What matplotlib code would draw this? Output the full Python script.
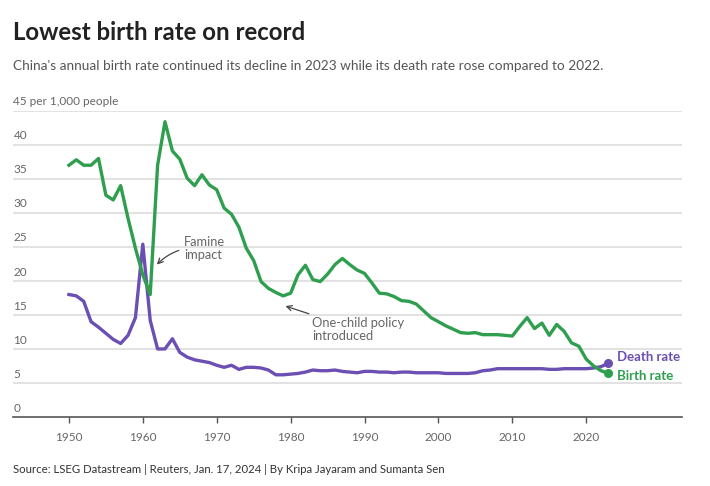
"""China birth rate vs death rate, 1950-2023 (Reuters style)."""

import matplotlib

matplotlib.use("Agg")
import matplotlib.pyplot as plt

plt.rcParams["font.family"] = ["Lato", "DejaVu Sans"]

GREEN = "#2f9e4f"
PURPLE = "#6b4fb3"
GRID = "#dddddd"
TEXT_GRAY = "#666666"

years = list(range(1950, 2024))

birth_rate = [
    37.0, 37.8, 37.0, 37.0, 38.0, 32.6, 31.9, 34.0, 29.2, 24.8,
    20.9, 18.0, 37.0, 43.4, 39.1, 37.9, 35.1, 34.0, 35.6, 34.1,
    33.4, 30.7, 29.8, 27.9, 24.8, 23.0, 19.9, 18.9, 18.3, 17.8,
    18.2, 20.9, 22.3, 20.2, 19.9, 21.0, 22.4, 23.3, 22.4, 21.6,
    21.1, 19.7, 18.2, 18.1, 17.7, 17.1, 17.0, 16.6, 15.6, 14.6,
    14.0, 13.4, 12.9, 12.4, 12.3, 12.4, 12.1, 12.1, 12.1, 12.0,
    11.9, 13.3, 14.6, 13.0, 13.8, 12.0, 13.6, 12.6, 10.9, 10.4,
    8.5, 7.5, 6.8, 6.4,
]

death_rate = [
    18.0, 17.8, 17.0, 14.0, 13.2, 12.3, 11.4, 10.8, 12.0, 14.6,
    25.4, 14.2, 10.0, 10.0, 11.5, 9.5, 8.8, 8.4, 8.2, 8.0,
    7.6, 7.3, 7.6, 7.0, 7.3, 7.3, 7.2, 6.9, 6.2, 6.2,
    6.3, 6.4, 6.6, 6.9, 6.8, 6.8, 6.9, 6.7, 6.6, 6.5,
    6.7, 6.7, 6.6, 6.6, 6.5, 6.6, 6.6, 6.5, 6.5, 6.5,
    6.5, 6.4, 6.4, 6.4, 6.4, 6.5, 6.8, 6.9, 7.1, 7.1,
    7.1, 7.1, 7.1, 7.1, 7.1, 7.0, 7.0, 7.1, 7.1, 7.1,
    7.1, 7.2, 7.4, 7.9,
]

x_ticks = [1950, 1960, 1970, 1980, 1990, 2000, 2010, 2020]
y_ticks = [0, 5, 10, 15, 20, 25, 30, 35, 40]

fig = plt.figure(figsize=(7.1, 4.86), dpi=100)
ax = fig.add_axes([0.019, 0.142, 0.942, 0.630])

ax.set_xlim(1942.5, 2033)
ax.set_ylim(0, 45)

for v in y_ticks[1:] + [45]:
    ax.axhline(v, color=GRID, lw=1.2, zorder=0)

ax.plot(years, death_rate, color=PURPLE, lw=2.4, solid_joinstyle="round", zorder=3)
ax.plot(years, birth_rate, color=GREEN, lw=2.4, solid_joinstyle="round", zorder=4)
ax.plot(years[-1], death_rate[-1], "o", color=PURPLE, ms=5.5, zorder=5)
ax.plot(years[-1], birth_rate[-1], "o", color=GREEN, ms=5.5, zorder=5)

for side in ("top", "right", "left"):
    ax.spines[side].set_visible(False)
ax.spines["bottom"].set_color("#555555")
ax.spines["bottom"].set_linewidth(1.2)

ax.set_yticks([])
ax.set_xticks(x_ticks)
ax.set_xticklabels([str(y) for y in x_ticks])
ax.tick_params(axis="x", length=4, width=1, color="#555555", labelsize=8.5,
               labelcolor=TEXT_GRAY, pad=7)

for v in y_ticks:
    ax.text(1942.5, v + 0.5, str(v), fontsize=8.5, color=TEXT_GRAY,
            ha="left", va="bottom")
ax.text(1942.5, 45.5, "45 per 1,000 people", fontsize=8.5, color=TEXT_GRAY,
        ha="left", va="bottom")

ax.text(2024.2, 8.8, "Death rate", color=PURPLE,
        fontsize=9.5, fontweight="bold", ha="left", va="center")
ax.text(2024.2, 6.0, "Birth rate", color=GREEN,
        fontsize=9.5, fontweight="bold", ha="left", va="center")

ax.annotate("Famine\nimpact", xy=(1961.9, 22.4), xytext=(1965.6, 24.8),
            fontsize=9.3, color=TEXT_GRAY, ha="left", va="center",
            linespacing=1.1,
            arrowprops=dict(arrowstyle="->", color="#444444", lw=0.9,
                            connectionstyle="arc3,rad=0.25",
                            shrinkA=2, shrinkB=0))
ax.annotate("One-child policy\nintroduced", xy=(1979.3, 16.3),
            xytext=(1982.9, 12.8),
            fontsize=9.3, color=TEXT_GRAY, ha="left", va="center",
            linespacing=1.1,
            arrowprops=dict(arrowstyle="->", color="#444444", lw=0.9,
                            shrinkA=2, shrinkB=0))

fig.text(0.019, 0.934, "Lowest birth rate on record", fontsize=17.3,
         fontweight="bold", color="#222222", ha="left", va="center")
fig.text(0.019, 0.864,
         "China's annual birth rate continued its decline in 2023 while its "
         "death rate rose compared to 2022.",
         fontsize=9.8, color="#555555", ha="left", va="center")
fig.text(0.019, 0.033,
         "Source: LSEG Datastream | Reuters, Jan. 17, 2024 | By Kripa Jayaram "
         "and Sumanta Sen",
         fontsize=8.2, color="#333333", ha="left", va="center")

fig.savefig("out.png", dpi=100)
